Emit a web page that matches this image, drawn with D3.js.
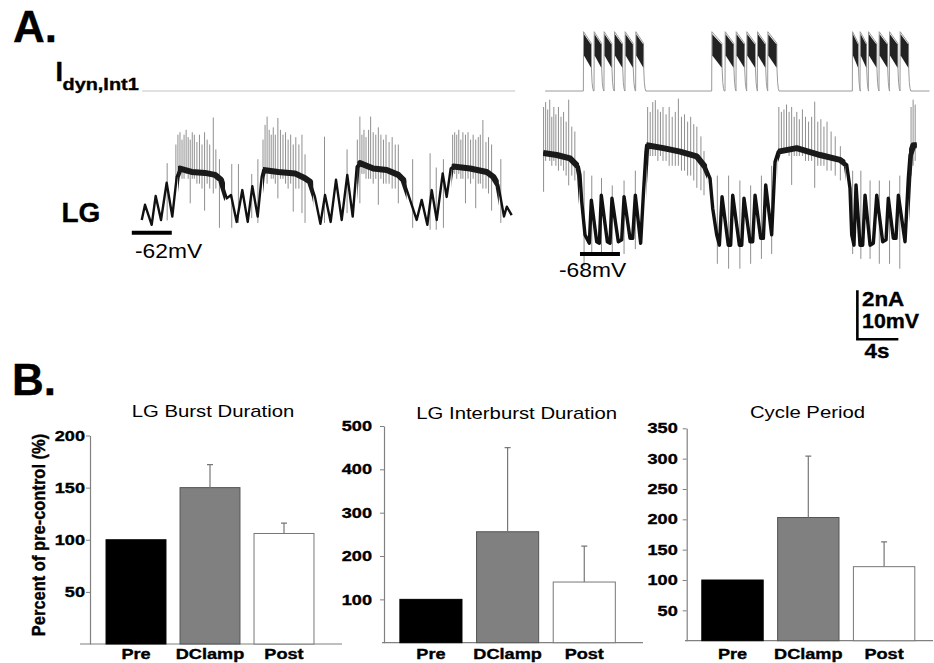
<!DOCTYPE html>
<html>
<head>
<meta charset="utf-8">
<script src="https://cdn.jsdelivr.net/npm/d3@7"></script>
<style>
  body { margin: 0; background: #fff; }
  text { font-family: "Liberation Sans", Arial, sans-serif; fill: #000; }
  text.heavy { stroke: #000; stroke-width: 0.35px; }
</style>
</head>
<body>
<div id="fig"></div>
<script>
// ---------- panel A data (time in s, membrane potential in mV, current in nA) ----------
// LG voltage, pre-control (slow wave vertices)
const leftTrace = [
  [0.17,-59.4],[0.49,-56.3],[1.14,-60.4],[1.53,-54.5],[2.05,-59.4],[2.6,-51.8],[3.15,-58.7],[3.58,-50.6],
  [3.9,-48.9],[5.04,-49.6],[6.34,-49.8],[7.32,-50.2],[7.9,-51.2],[8.46,-55.0],[8.88,-54.3],[9.43,-59.8],
  [9.98,-53.3],[10.51,-59.8],[10.96,-52.5],[11.48,-58.7],[11.87,-50.6],[12.03,-49.2],[13.49,-49.6],
  [15.12,-49.9],[16.1,-50.9],[16.59,-51.6],[17.07,-54.7],[17.6,-60.2],[18.05,-54.3],[18.6,-59.8],
  [19.12,-51.2],[19.68,-59.4],[20.22,-50.2],[20.75,-58.7],[21.14,-48.5],[21.46,-47.8],[22.76,-48.9],
  [24.07,-49.2],[25.2,-50.2],[25.69,-51.2],[26.08,-53.6],[26.99,-59.4],[27.48,-55.3],[28.03,-60.4],
  [28.46,-53.3],[28.95,-59.4],[29.53,-49.9],[29.92,-54.7],[30.31,-48.9],[30.57,-48.5],[32.2,-48.9],
  [33.82,-49.6],[34.47,-50.6],[34.96,-52.3],[35.51,-58.7],[35.78,-56.7],[36.26,-58.4]
];
// spikes: [time, peak mV, low mV]
const leftSpikes = [
  [2.65,-47.8,-59.5],
  [3.5,-44,-52],[3.7,-42,-50],[3.9,-41.5,-50],[4.1,-43,-51],[4.3,-42,-51],[4.5,-41,-50],[4.7,-42.5,-51],
  [4.9,-43,-56],[5.1,-41.5,-51],[5.3,-42,-51],[5.55,-43.5,-52],[5.8,-42,-52],[6.05,-44,-53],[6.3,-41.5,-57.5],
  [6.55,-43,-52],[6.8,-44,-53],[7.15,-38.5,-54],[7.4,-45,-53],[7.75,-47,-61],[8.95,-48,-61],
  [9.6,-48,-60],[10.9,-50,-59],[11.5,-47,-60],
  [12.0,-43,-51],[12.2,-40,-50],[12.4,-38.3,-52],[12.6,-41,-50],[12.8,-42,-51],[13.0,-40.5,-51],
  [13.2,-42,-52],[13.45,-38.6,-55],[13.7,-41,-51],[13.95,-42,-51],[14.2,-41.5,-52],[14.45,-43,-53],
  [14.7,-42,-52],[14.95,-44,-57.7],[15.2,-42.5,-53],[15.5,-44,-53],[15.8,-42,-58],[16.1,-46,-60],
  [18.0,-42.4,-60],[20.2,-45,-58],
  [21.2,-43,-52],[21.45,-38.3,-56],[21.65,-42,-50],[21.85,-41,-50],[22.05,-42.5,-51],[22.3,-41,-51],
  [22.5,-38.3,-51],[22.75,-41.5,-52],[23.0,-42,-51],[23.25,-40.5,-56.3],[23.5,-42,-51],[23.75,-43,-52],
  [24.0,-42,-52],[24.3,-43.5,-52],[24.6,-42.5,-53],[24.9,-44,-53],[25.2,-44,-56],
  [26.6,-47,-61],[28.3,-45.8,-61.4],[28.9,-48.7,-61.4],[29.6,-47,-61],
  [30.5,-42,-50],[30.7,-41.5,-50],[30.9,-42,-51],[31.1,-41,-50],[31.3,-43,-51],[31.5,-41.5,-51],
  [31.75,-42,-56],[32.0,-41.5,-51],[32.25,-43,-52],[32.5,-42,-51],[32.75,-43,-57],[33.0,-42.5,-52],
  [33.2,-42,-52],[33.45,-39,-53],[33.75,-43.5,-53],[34.0,-42.5,-54],[34.3,-44,-57.5],[35.2,-47,-60]
];
const leftBursts = [[3.7,8.3],[12.0,16.9],[21.2,26.0],[30.4,35.0]];
const leftCurrent = [[0.2,0],[36.6,0]];

// LG voltage with dynamic clamp of Int1
const rightTrace = [
  [0.32,-47.4],[1.63,-47.8],[2.93,-48.5],[3.74,-50.2],[3.9,-51.9],[4.07,-57.3],[4.39,-64.1],
  [4.81,-65.8],[5.01,-57.0],[5.53,-65.5],[5.79,-65.8],[5.98,-56.0],[6.57,-65.5],[6.83,-65.8],[7.02,-56.6],
  [7.64,-65.5],[7.97,-65.1],[8.2,-56.3],[8.78,-64.8],[9.04,-64.8],[9.3,-56.0],[9.82,-65.8],[10.08,-56.0],
  [10.34,-47.1],[10.41,-45.8],[12.03,-46.4],[13.66,-47.1],[15.29,-48.1],[16.1,-50.2],[16.59,-52.6],
  [16.85,-58.7],[17.24,-64.1],[17.5,-66.2],[17.76,-56.3],[18.37,-66.2],[18.6,-66.2],[18.8,-56.0],
  [19.45,-66.2],[19.68,-66.2],[19.9,-56.6],[20.49,-65.5],[20.75,-65.5],[20.98,-56.0],[21.53,-64.8],
  [21.79,-64.8],[22.02,-53.9],[22.6,-64.1],[22.93,-49.2],[23.25,-47.1],[25.04,-46.4],[27.32,-47.8],
  [29.27,-48.8],[29.92,-49.8],[30.24,-54.6],[30.41,-64.1],[30.63,-66.2],[30.83,-53.9],[31.22,-66.2],
  [31.48,-66.2],[31.71,-56.0],[32.2,-66.2],[32.52,-65.8],[32.85,-56.0],[33.43,-65.5],[33.76,-65.1],
  [33.98,-56.6],[34.47,-64.8],[34.73,-64.8],[34.96,-56.0],[35.61,-65.5],[35.93,-52.6],[36.1,-47.8],
  [36.42,-45.8],[36.75,-45.8]
];
const rightSpikes = [
  [0.35,-38,-55.3],[0.55,-37,-49],[0.75,-38.5,-48],[0.95,-36.5,-49],[1.15,-40,-50],[1.35,-38,-49],
  [1.55,-39.5,-50],[1.8,-38,-51],[2.05,-40,-50],[2.3,-39,-51],[2.55,-41,-52],[2.8,-36.5,-54],
  [3.1,-42,-52],[3.4,-43,-53],
  [4.3,-51,-70.5],[5.05,-52,-68],[6.0,-52.5,-68],[7.05,-54,-68],[8.2,-53,-68],[9.3,-51,-67],
  [10.5,-38,-50],[10.75,-39,-48],[11.0,-37,-48],[11.25,-36.6,-48],[11.5,-38.5,-49],[11.75,-39,-48],
  [12.0,-38,-49],[12.3,-39.5,-49],[12.6,-38,-50],[12.9,-40,-50],[13.2,-39,-50],[13.5,-36.3,-50],
  [13.8,-40,-51],[14.1,-39.5,-51],[14.4,-41,-52],[14.7,-40,-52],[15.0,-41.5,-53],[15.3,-42,-54.5],
  [15.7,-44,-55],[16.0,-47,-56],
  [17.3,-52,-70],[18.4,-52,-71],[19.5,-53,-71],[20.55,-54,-70],[21.6,-52,-69],[22.6,-50,-68],
  [23.3,-38,-48],[23.55,-39,-47],[23.8,-38.5,-47],[24.05,-37.5,-47],[24.3,-39,-48],[24.55,-38,-53.9],
  [24.8,-40,-48],[25.05,-39,-48],[25.3,-40.5,-48],[25.6,-38.5,-48],[25.9,-40,-49],[26.2,-41,-49],
  [26.5,-40,-49],[26.8,-36.9,-54.5],[27.1,-41,-50],[27.4,-40.5,-50],[27.7,-42,-50],[28.0,-41,-51],
  [28.4,-43,-51],[28.8,-44,-52],[29.3,-46,-53],
  [30.5,-51,-68],[31.3,-51,-69],[32.2,-53,-69],[33.1,-53,-70],[34.1,-53,-70],[35.1,-52,-71],
  [36.2,-38,-52],[36.4,-36.5,-50],[36.6,-37.5,-49]
];
const rightPlateaus = [[0.3,3.8],[10.4,16.3],[23.2,29.8],[36.0,36.8]];
// dynamic clamp current pulses: [onset, end of plateau]
const currentPulses = [
  [4.23,5.0],[5.27,6.0],[6.24,7.0],[7.25,8.05],[8.29,9.08],[9.33,10.1],
  [16.75,17.75],[18.05,18.9],[19.12,19.95],[20.16,21.0],[21.2,22.0],[22.21,23.1],
  [30.47,31.05],[31.22,31.85],[32.03,32.85],[33.07,33.9],[34.08,34.9],[35.12,35.95]
];
const pulsePeak = 2.42, pulseEndLevel = 1.95;          // nA, top of each pulse
const pulseBandLow = [1.45, 0.95];                      // nA, lower edge of the noisy band
const pulseTail = [[0.02,0.9],[0.08,0.35],[0.15,0.1],[0.22,0]]; // decay after pulse end
const rightCurrentSpan = [0.5, 38.0];

// ---------- panel B data ----------
const groups = ["Pre", "DClamp", "Post"];
const burstMean = [100, 150, 106], burstErr = [0, 22, 10];
const interMean = [100, 256, 140], interErr = [0, 194, 83];
const cycleMean = [100, 203, 122], cycleErr = [0, 101, 41];
const burstTicks = [50, 100, 150, 200];
const interTicks = [100, 200, 300, 400, 500];
const cycleTicks = [50, 100, 150, 200, 250, 300, 350];
const titles = ["LG Burst Duration", "LG Interburst Duration", "Cycle Period"];

const W = 934, H = 663;
const svg = d3.select("#fig").append("svg").attr("width", W).attr("height", H);

// scanned figure text is a bit wider than the font, so stretch horizontally
function label(x, y, s, size, weight, anchor, sx) {
  return svg.append("text")
    .attr("class", weight === "bold" ? "heavy" : null)
    .attr("transform", `translate(${x},${y}) scale(${sx || 1},1)`)
    .attr("text-anchor", anchor || "start")
    .style("font-size", size + "px")
    .style("font-weight", weight || "normal")
    .text(s);
}

// ================= A =================
label(13, 42, "A.", 44, "bold");
label(55.5, 81, "I", 27, "bold");
label(62.5, 90, "dyn,Int1", 16.3, "bold", "start", 1.22);
label(61.5, 221.7, "LG", 28, "bold");

const xL = d3.scaleLinear().domain([0, 36.3]).range([140, 512.1]);
const yL = d3.scaleLinear().domain([-62, -52]).range([232.7, 183.7]);
const xR = d3.scaleLinear().domain([0, 36.7]).range([540, 916.2]);
const yR = d3.scaleLinear().domain([-68, -58]).range([254, 205]);
const yI = d3.scaleLinear().domain([0, 2]).range([91, 42]);

// current traces
const lineL = d3.line().x(d => xL(d[0])).y(d => yI(d[1]));
svg.append("path").attr("d", lineL(leftCurrent))
  .attr("fill", "none").attr("stroke", "#c4c4c4").attr("stroke-width", 1.2);

let curR = [[rightCurrentSpan[0], 0]];
currentPulses.forEach(([on, off]) => {
  curR.push([on, 0], [on + 0.02, pulsePeak], [off, pulseEndLevel]);
  pulseTail.forEach(([dt, i]) => curR.push([off + dt, i]));
});
curR.push([rightCurrentSpan[1], 0]);
const lineR = d3.line().x(d => xR(d[0])).y(d => yI(d[1]));
svg.append("path").attr("d", lineR(curR))
  .attr("fill", "none").attr("stroke", "#9a9a9a").attr("stroke-width", 1);

const bandArea = d3.area().x(d => xR(d[0])).y0(d => yI(d[2])).y1(d => yI(d[1]));
svg.selectAll(".pulseband").data(currentPulses).join("path")
  .attr("class", "pulseband")
  .attr("d", ([on, off]) => bandArea([[on + 0.06, pulsePeak - 0.1, pulseBandLow[0]], [off - 0.02, pulseEndLevel - 0.05, pulseBandLow[1]]]))
  .attr("fill", "#222");

// voltage traces
function drawTrace(data, spikes, x, y, thin, thick, windows, id) {
  const g = svg.append("g");
  g.selectAll("line").data(spikes).join("line")
    .attr("x1", d => x(d[0])).attr("x2", d => x(d[0]))
    .attr("y1", d => y(d[1])).attr("y2", d => y(d[2]))
    .attr("stroke", "#8f8f8f").attr("stroke-width", 1);
  const line = d3.line().x(d => x(d[0])).y(d => y(d[1]));
  g.append("path").attr("d", line(data))
    .attr("fill", "none").attr("stroke", "#111").attr("stroke-width", thin)
    .attr("stroke-linejoin", "round");
  windows.forEach((w, i) => {
    svg.append("clipPath").attr("id", id + i).append("rect")
      .attr("x", x(w[0])).attr("width", x(w[1]) - x(w[0]))
      .attr("y", 0).attr("height", H);
    g.append("path").attr("d", line(data))
      .attr("clip-path", `url(#${id + i})`)
      .attr("fill", "none").attr("stroke", "#1a1a1a").attr("stroke-width", thick)
      .attr("stroke-linejoin", "round");
  });
}
drawTrace(leftTrace, leftSpikes, xL, yL, 2.4, 6, leftBursts, "lb");
drawTrace(rightTrace, rightSpikes, xR, yR, 3.4, 6, rightPlateaus, "rb");

// reference potential bars
svg.append("line").attr("x1", xL(-0.8)).attr("x2", xL(3.1)).attr("y1", yL(-62)).attr("y2", yL(-62))
  .attr("stroke", "#000").attr("stroke-width", 4);
label(135, 258, "-62mV", 20, "normal", "start", 1.14);
svg.append("line").attr("x1", xR(3.9)).attr("x2", xR(7.8)).attr("y1", yR(-68)).attr("y2", yR(-68))
  .attr("stroke", "#000").attr("stroke-width", 4);
label(559, 276.7, "-68mV", 20, "normal", "start", 1.14);

// scale bar: 2 nA / 10 mV, 4 s
const sbT = 30.96, sbV = -85.4;
svg.append("path")
  .attr("d", `M${xR(sbT)},${yR(sbV + 10)}V${yR(sbV)}H${xR(sbT + 4)}`)
  .attr("fill", "none").attr("stroke", "#000").attr("stroke-width", 2.6);
label(862, 306, "2nA", 20, "bold", "start", 1.12);
label(862, 328, "10mV", 20, "bold", "start", 1.07);
label(864.5, 358, "4s", 20, "bold", "start", 1.12);

// ================= B =================
label(12, 395, "B.", 44, "bold");

const panels = [
  { mean: burstMean, err: burstErr, ticks: burstTicks, max: 200 },
  { mean: interMean, err: interErr, ticks: interTicks, max: 500 },
  { mean: cycleMean, err: cycleErr, ticks: cycleTicks, max: 350 }
];
const layout = [
  { axisX: 90,    y0: 644,   y1: 435.5, band: [99, 321],     base: [80, 342],  titleX: 213,   titleY: 417,   gap: 5 },
  { axisX: 384,   y0: 642.7, y1: 426,   band: [392.6, 622.6], base: [382, 643], titleX: 516.7, titleY: 419.3, gap: 12 },
  { axisX: 686.7, y0: 640.7, y1: 428.3, band: [694.6, 922],  base: [685, 933], titleX: 807.5, titleY: 418.3, gap: 9 }
];
const barFill = ["#000", "#808080", "#fff"];
const barStroke = ["#000", "#555", "#777"];
const sx = 1.25;

panels.forEach((p, k) => {
  const L = layout[k];
  const y = d3.scaleLinear().domain([0, p.max]).range([L.y0, L.y1]);
  const x = d3.scaleBand().domain(groups).range(L.band).paddingInner(0.19).paddingOuter(0.095);
  const g = svg.append("g");

  // x baseline
  g.append("line").attr("x1", L.base[0]).attr("x2", L.base[1])
    .attr("y1", y(0)).attr("y2", y(0)).attr("stroke", "#808080").attr("stroke-width", 1.2);

  // y axis
  const ax = g.append("g").attr("transform", `translate(${L.axisX},0)`)
    .call(d3.axisLeft(y).tickValues(p.ticks).tickSize(4).tickSizeOuter(0));
  ax.select(".domain").attr("stroke", "#808080").attr("stroke-width", 1.2);
  ax.selectAll(".tick line").attr("stroke", "#808080");
  ax.selectAll(".tick text")
    .attr("class", "heavy")
    .attr("x", -L.gap / sx).attr("transform", `scale(${sx},1)`)
    .style("font-size", "14.5px").style("font-weight", "bold")
    .style("font-family", "'Liberation Sans', Arial, sans-serif").attr("fill", "#000");

  // bars
  g.selectAll(".bar").data(groups).join("rect").attr("class", "bar")
    .attr("x", d => x(d)).attr("width", x.bandwidth())
    .attr("y", (d, i) => y(p.mean[i])).attr("height", (d, i) => y(0) - y(p.mean[i]))
    .attr("fill", (d, i) => barFill[i]).attr("stroke", (d, i) => barStroke[i]).attr("stroke-width", 1);

  // error bars (upper only)
  const eb = groups.map((d, i) => ({ c: x(d) + x.bandwidth() / 2, m: p.mean[i], e: p.err[i] })).filter(d => d.e > 0);
  g.selectAll(".err").data(eb).join("path").attr("class", "err")
    .attr("d", d => `M${d.c},${y(d.m)}V${y(d.m + d.e)}M${d.c - 3},${y(d.m + d.e)}H${d.c + 3}`)
    .attr("fill", "none").attr("stroke", "#777").attr("stroke-width", 1.2);

  // category labels
  groups.forEach(d => label(x(d) + x.bandwidth() / 2, 659, d, 14.5, "bold", "middle", sx));

  label(L.titleX, L.titleY, titles[k], 16, "normal", "middle", 1.27);
});

svg.append("text")
  .attr("class", "heavy")
  .attr("transform", "translate(45,535) scale(1.12,1) rotate(-90)")
  .attr("text-anchor", "middle")
  .style("font-size", "16.5px").style("font-weight", "bold")
  .text("Percent of pre-control (%)");
</script>
</body>
</html>
